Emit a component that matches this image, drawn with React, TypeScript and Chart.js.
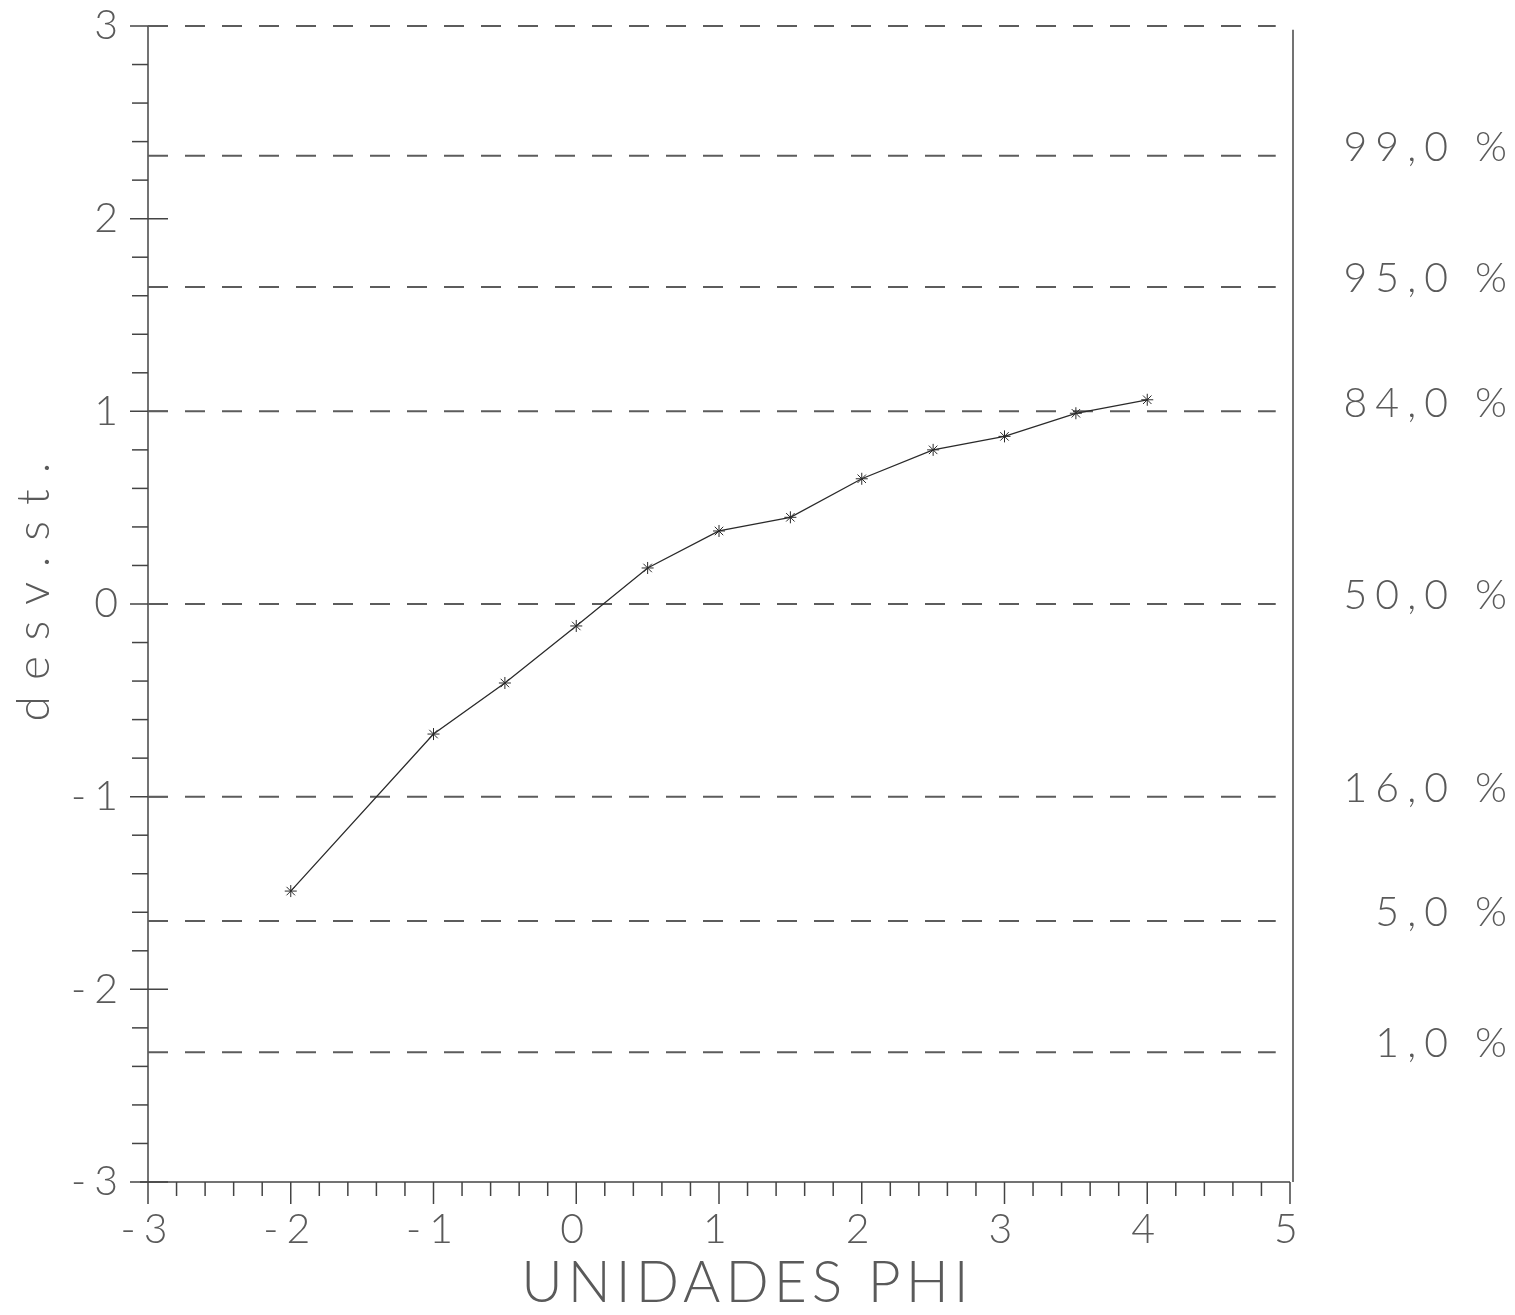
import React, { useEffect, useRef } from "react";
import { Chart, registerables } from "chart.js";

Chart.register(...registerables);

// Data: phi units vs standard deviation
const phiValues = [-2, -1, -0.5, 0, 0.5, 1, 1.5, 2, 2.5, 3, 3.5, 4];
const devValues = [-1.49, -0.675, -0.41, -0.114, 0.187, 0.379, 0.45, 0.65, 0.8, 0.87, 0.99, 1.06];

// Reference percentile levels (standard deviations) and their labels
const refLevels = [2.326, 1.645, 1, 0, -1, -1.645, -2.326];
const refLabels = ["99,0 %", "95,0 %", "84,0 %", "50,0 %", "16,0 %", "5,0 %", "1,0 %"];
const topLevel = 3;

const xTickValues = [-3, -2, -1, 0, 1, 2, 3, 4, 5];
const xTickLabels = ["-3", "-2", "-1", "0", "1", "2", "3", "4", "5"];
const yTickValues = [3, 2, 1, 0, -1, -2, -3];
const yTickLabels = ["3", "2", "1", "0", "-1", "-2", "-3"];

const xTitle = "UNIDADES PHI";
const yTitle = "desv.st.";

const FONT = '"Lato", "DejaVu Sans", sans-serif';
const TEXT_COLOR = "#5a5a5a";

function drawSpaced(ctx: CanvasRenderingContext2D, text: string, x: number, y: number, align: "left" | "right" | "center", spacing: number) {
  (ctx as any).letterSpacing = spacing + "px";
  const w = ctx.measureText(text).width; // includes trailing spacing
  let sx = x;
  if (align === "right") sx = x - w + spacing;
  else if (align === "center") sx = x - (w - spacing) / 2;
  ctx.textAlign = "left";
  ctx.fillText(text, sx, y);
  (ctx as any).letterSpacing = "0px";
}

const framePlugin = {
  id: "framePlugin",
  beforeDatasetsDraw(chart: any) {
    const ctx: CanvasRenderingContext2D = chart.ctx;
    const xs = chart.scales.x;
    const ys = chart.scales.y;
    const x0 = xs.getPixelForValue(-3);
    const x1 = xs.getPixelForValue(5);
    const yTop = ys.getPixelForValue(3);
    const yBot = ys.getPixelForValue(-3);
    ctx.save();
    ctx.strokeStyle = "#444";
    ctx.lineWidth = 1.5;
    // left axis
    ctx.beginPath();
    ctx.moveTo(x0, yTop);
    ctx.lineTo(x0, yBot);
    ctx.stroke();
    // bottom axis
    ctx.beginPath();
    ctx.moveTo(x0 - 8, yBot);
    ctx.lineTo(x1, yBot);
    ctx.stroke();
    // right line
    ctx.beginPath();
    ctx.moveTo(x1 + 3, ys.getPixelForValue(2.98));
    ctx.lineTo(x1 + 3, yBot);
    ctx.stroke();
    // y ticks
    for (let i = -15; i <= 15; i++) {
      const v = i / 5;
      const py = ys.getPixelForValue(v);
      ctx.beginPath();
      if (i % 5 === 0) {
        ctx.moveTo(x0 - 18, py);
        ctx.lineTo(x0 + 20, py);
      } else {
        ctx.moveTo(x0 - 16, py);
        ctx.lineTo(x0, py);
      }
      ctx.stroke();
    }
    // x ticks
    for (let i = -15; i <= 25; i++) {
      const v = i / 5;
      const px = xs.getPixelForValue(v);
      ctx.beginPath();
      ctx.moveTo(px, yBot);
      ctx.lineTo(px, yBot + (i % 5 === 0 ? 22 : 14));
      ctx.stroke();
    }
    ctx.restore();
  },
  afterDraw(chart: any) {
    const ctx: CanvasRenderingContext2D = chart.ctx;
    const xs = chart.scales.x;
    const ys = chart.scales.y;
    const x0 = xs.getPixelForValue(-3);
    ctx.save();
    ctx.fillStyle = TEXT_COLOR;
    ctx.textBaseline = "middle";
    ctx.font = `300 41px ${FONT}`;
    // y tick labels
    yTickValues.forEach((v, i) => {
      drawSpaced(ctx, yTickLabels[i], x0 - 30, ys.getPixelForValue(v), "right", 8);
    });
    // x tick labels
    xTickValues.forEach((v, i) => {
      drawSpaced(ctx, xTickLabels[i], xs.getPixelForValue(v) - 4, 1230, "center", 8);
    });
    // right labels
    refLevels.forEach((v, i) => {
      drawSpaced(ctx, refLabels[i], 1507, ys.getPixelForValue(v) - 8, "right", 8);
    });
    // x title
    ctx.font = `300 57px ${FONT}`;
    drawSpaced(ctx, xTitle, 745, 1284, "center", 5);
    // y title
    ctx.font = `300 46px ${FONT}`;
    ctx.translate(34, 592);
    ctx.rotate(-Math.PI / 2);
    drawSpaced(ctx, yTitle, 0, 0, "center", 16);
    ctx.restore();
  },
};

export default function App() {
  const ref = useRef<HTMLCanvasElement>(null);
  useEffect(() => {
    if (!ref.current) return;
    const refDatasets = [topLevel, ...refLevels].map((lv) => ({
      type: "line" as const,
      data: [
        { x: -3, y: lv },
        { x: 4.9, y: lv },
      ],
      borderColor: "#5c5c5c",
      borderWidth: 2,
      borderDash: [20, 17],
      pointRadius: 0,
      fill: false,
      clip: false as any,
    }));
    const chart = new Chart(ref.current, {
      type: "line",
      data: {
        datasets: [
          {
            data: phiValues.map((x, i) => ({ x, y: devValues[i] })),
            borderColor: "#2a2a2a",
            borderWidth: 1.3,
            pointStyle: "star",
            pointRadius: 6,
            pointBorderColor: "#2a2a2a",
            pointBorderWidth: 1,
            pointBackgroundColor: "#2a2a2a",
            fill: false,
            tension: 0,
          },
          ...refDatasets,
        ] as any,
      },
      options: {
        animation: false,
        responsive: false,
        maintainAspectRatio: false,
        layout: { padding: { left: 148, right: 225, top: 26, bottom: 133 } },
        plugins: { legend: { display: false }, tooltip: { enabled: false } },
        scales: {
          x: { type: "linear", min: -3, max: 5, display: false },
          y: { type: "linear", min: -3, max: 3, display: false },
        },
      },
      plugins: [framePlugin],
    });
    return () => chart.destroy();
  }, []);
  return (
    <div style={{ position: "absolute", left: 0, top: 0, width: 1515, height: 1315, background: "#fff" }}>
      <canvas ref={ref} width={1515} height={1315} style={{ width: 1515, height: 1315 }} />
    </div>
  );
}
